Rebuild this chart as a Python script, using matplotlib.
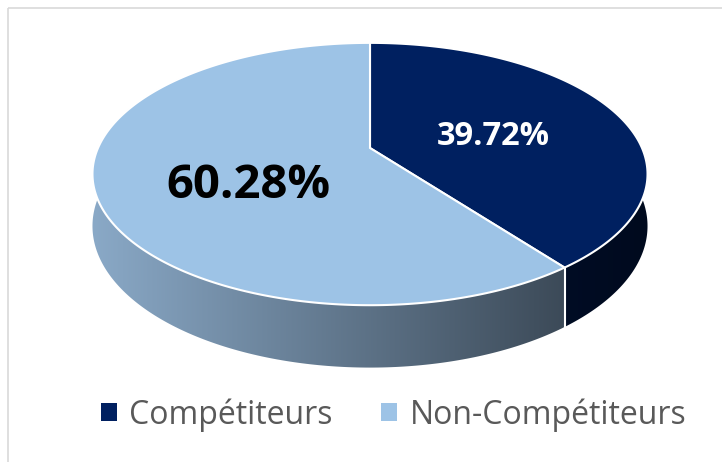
import numpy as np
import matplotlib
matplotlib.use("Agg")
import matplotlib.pyplot as plt
from matplotlib.patches import Polygon, Rectangle, Patch
from matplotlib.colors import LinearSegmentedColormap

labels = ["Compétiteurs", "Non-Compétiteurs"]
values = [39.72, 60.28]
top_colors = ["#002060", "#9DC3E6"]
side_left = ["#001233", "#8AA9C7"]
side_right = ["#000A1E", "#3C4A58"]
label_colors = ["white", "black"]
label_sizes = [23.5, 34]
label_frac = [0.5, 0.45]
label_nudge = [(-2, 8), (-2, 19)]

# pie geometry in pixels (perspective-projected disc)
W, H = 722, 462
cx, cy = 370, 148
A, B, k = 272, 126, 0.1985
depth = 50


def proj(theta, r=1.0, z=0.0):
    x = r * np.cos(theta)
    y = r * np.sin(theta)
    w = 1 + k * y
    return cx + A * x / w, cy - B * y / w + depth * z / w


fig = plt.figure(figsize=(W / 100, H / 100), dpi=100)
ax = fig.add_axes([0, 0, 1, 1])
ax.set_xlim(0, W)
ax.set_ylim(H, 0)
ax.axis("off")

# chart frame
ax.add_patch(Rectangle((8, 8), 800, 600, fill=False, ec="#D9D9D9", lw=1.2))

fracs = np.array(values) / sum(values)
starts = np.pi / 2 - 2 * np.pi * np.concatenate([[0], np.cumsum(fracs)[:-1]])
ends = starts - 2 * np.pi * fracs

# side walls
for i in range(len(values)):
    t = np.linspace(starts[i], ends[i], 300)
    xt, yt = proj(t)
    xb, yb = proj(t[::-1], z=1)
    pts = np.column_stack([np.concatenate([xt, xb]), np.concatenate([yt, yb])])
    wall = Polygon(pts, closed=True, fc="none", ec="none")
    ax.add_patch(wall)
    cmap = LinearSegmentedColormap.from_list("w%d" % i, [side_left[i], side_right[i]])
    x0, x1 = pts[:, 0].min(), pts[:, 0].max()
    y0, y1 = pts[:, 1].min(), pts[:, 1].max()
    im = ax.imshow(np.linspace(0, 1, 256)[None, :], cmap=cmap, aspect="auto",
                   extent=[x0, x1, y1, y0], interpolation="bilinear", zorder=1)
    im.set_clip_path(wall)

# white seams between walls
for s in starts:
    xa, ya = proj(s)
    xb, yb = proj(s, z=1)
    ax.plot([xa, xb], [ya, yb], color="white", lw=1.5, zorder=2)

# top faces
for i in range(len(values)):
    t = np.linspace(starts[i], ends[i], 300)
    xt, yt = proj(t)
    pts = np.column_stack([np.concatenate([[cx], xt]), np.concatenate([[cy], yt])])
    ax.add_patch(Polygon(pts, closed=True, fc=top_colors[i], ec="white", lw=1.5, zorder=3))

# data labels
for i in range(len(values)):
    mid = (starts[i] + ends[i]) / 2
    lx, ly = proj(mid, r=label_frac[i])
    ax.text(lx + label_nudge[i][0], ly + label_nudge[i][1], "%.2f%%" % values[i],
            ha="center", va="center", fontsize=label_sizes[i], fontweight="bold",
            color=label_colors[i], family="Open Sans", zorder=5)

handles = [Patch(fc=c, ec="none") for c in top_colors]
fig.legend(handles, labels, loc="center", bbox_to_anchor=(0.545, 0.102), ncol=2,
           frameon=False, handlelength=0.5, handleheight=0.5, handletextpad=0.4,
           columnspacing=1.5, prop={"family": "Open Sans", "size": 23},
           labelcolor="#595959")

fig.savefig("out.png", dpi=100)
